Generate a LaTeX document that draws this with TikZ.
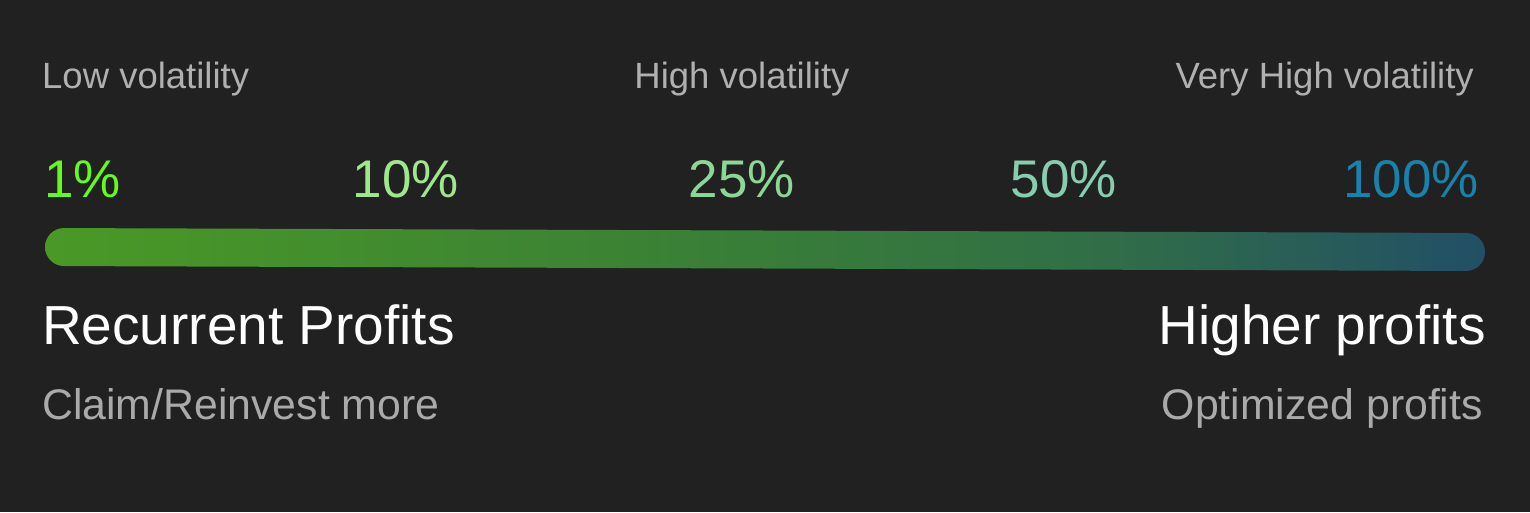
\documentclass[tikz,border=0pt]{standalone}
\usepackage{fontspec}
\setmainfont{Liberation Sans}
\definecolor{bg}{RGB}{33,33,33}
\definecolor{graytxt}{RGB}{176,176,176}
\definecolor{subtxt}{RGB}{170,170,170}
\definecolor{pOne}{RGB}{100,250,30}
\definecolor{pTen}{RGB}{160,230,140}
\definecolor{pTwentyFive}{RGB}{140,215,150}
\definecolor{pFifty}{RGB}{135,205,175}
\definecolor{pHundred}{RGB}{25,130,170}
\pgfdeclarehorizontalshading{barshade}{100bp}{
  rgb(0bp)=(0.29,0.60,0.15);
  rgb(25bp)=(0.29,0.60,0.15);
  rgb(50bp)=(0.22,0.49,0.22);
  rgb(62bp)=(0.19,0.43,0.28);
  rgb(75bp)=(0.13,0.31,0.40);
  rgb(100bp)=(0.13,0.31,0.40)}
\tikzset{
  vol/.style={inner sep=0pt, text=graytxt, font=\fontsize{36.5}{42}\selectfont},
  pct/.style={inner sep=0pt, font=\fontsize{53}{60}\selectfont},
  ttl/.style={inner sep=0pt, text=white, font=\fontsize{55}{62}\selectfont},
  sub/.style={inner sep=0pt, text=subtxt, font=\fontsize{42.8}{50}\selectfont}
}
\begin{document}
\begin{tikzpicture}[x=1pt,y=-1pt]
\fill[bg] (0,0) rectangle (1530,512);
\useasboundingbox (0,0) rectangle (1530,512);
% volatility labels
\node[vol, anchor=base west] (low) at (42,88) {Low volatility};
\node[vol, anchor=base] (high) at (742,88) {High volatility};
\node[vol, anchor=base east] (vhigh) at (1474,88) {Very High volatility};
% percentages
\node[pct, anchor=base west, text=pOne] (p1) at (44,197) {1\%};
\node[pct, anchor=base, text=pTen] (p10) at (406,197) {10\%};
\node[pct, anchor=base, text=pTwentyFive] (p25) at (742,197) {25\%};
\node[pct, anchor=base, text=pFifty] (p50) at (1064,197) {50\%};
\node[pct, anchor=base east, text=pHundred] (p100) at (1479,197) {100\%};
% bar
\path[shading=barshade, rounded corners=19pt]
  (45,228) -- (1485,233) -- (1485,271) -- (45,266) -- cycle;
% bottom titles
\node[ttl, anchor=base west] (rec) at (42,344) {Recurrent Profits};
\node[ttl, anchor=base east] (hp) at (1486,344) {Higher profits};
\node[sub, anchor=base west] (claim) at (42,419) {Claim/Reinvest more};
\node[sub, anchor=base east] (opt) at (1483,419) {Optimized profits};
\end{tikzpicture}
\end{document}
